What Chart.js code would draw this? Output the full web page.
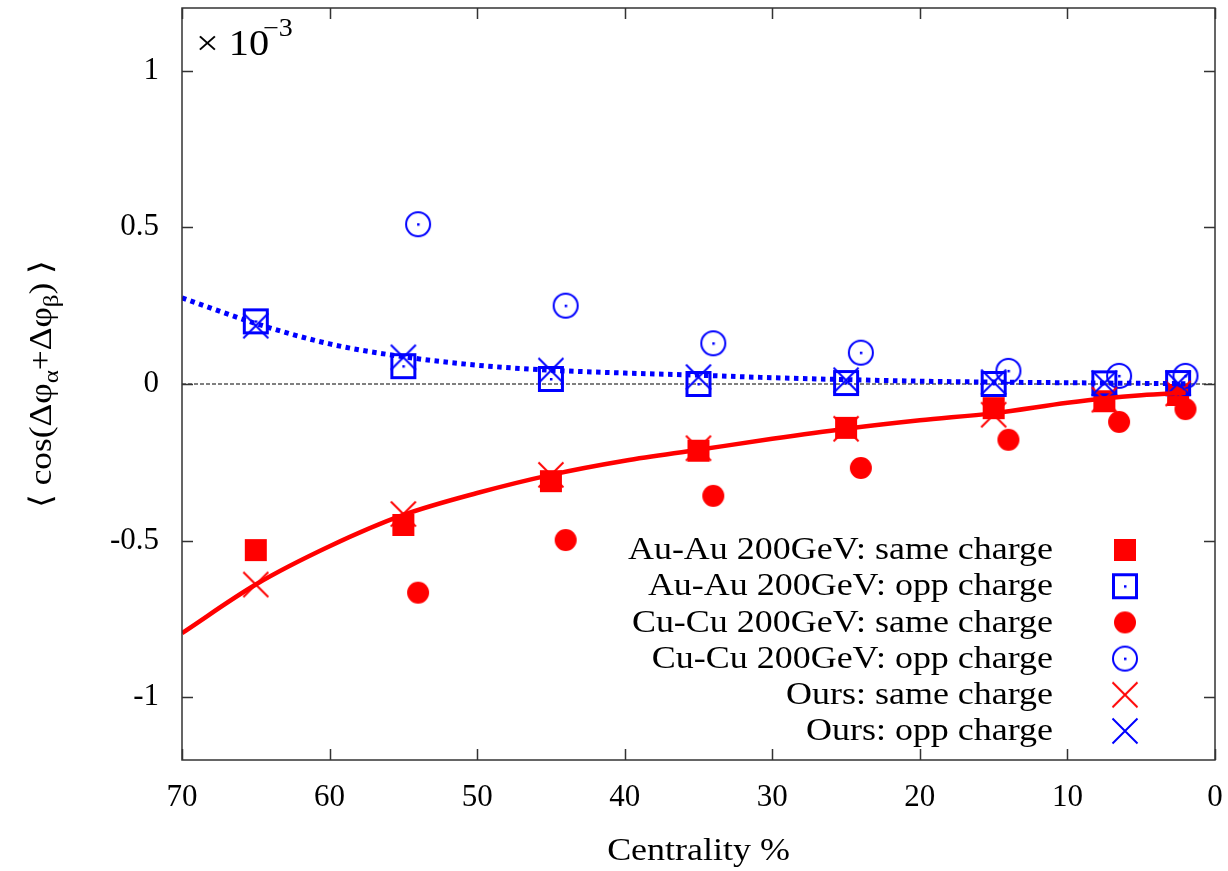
<!DOCTYPE html>
<html>
<head>
<meta charset="utf-8">
<script src="https://cdn.jsdelivr.net/npm/chart.js@4"></script>
<style>
  body { margin: 0; background: #fff; }
  #wrap { width: 1228px; height: 871px; }
</style>
</head>
<body>
<div id="wrap"><canvas id="corrChart" width="1228" height="871"></canvas></div>
<script>
// ---- data (units of 1e-3) ----
const auCent = [65, 55, 45, 35, 25, 15, 7.5, 2.5];
const auSame = [-0.53, -0.45, -0.31, -0.213, -0.14, -0.077, -0.055, -0.035];
const auOpp  = [0.20, 0.057, 0.016, 0.0, 0.003, 0.0, 0.002, 0.003];

const cuCent = [54, 44, 34, 24, 14, 6.5, 2];
const cuSame = [-0.666, -0.498, -0.357, -0.268, -0.178, -0.121, -0.08];
const cuOpp  = [0.51, 0.25, 0.13, 0.1, 0.042, 0.026, 0.026];

const oursCent = [65, 55, 45, 35, 25, 15, 7.5, 2.5];
const oursSame = [-0.64, -0.415, -0.29, -0.205, -0.143, -0.098, -0.05, -0.03];
const oursOpp  = [0.186, 0.085, 0.043, 0.022, 0.012, 0.006, 0.003, 0.002];

// fitted curves
const fitCent    = [70, 65, 60, 55, 50, 45, 40, 35, 30, 25, 20, 15, 10, 7.5, 5, 2];
const fitSame    = [-0.795, -0.64, -0.518, -0.418, -0.348, -0.29, -0.245, -0.21, -0.175, -0.143, -0.116, -0.093, -0.06, -0.046, -0.036, -0.028];
const fitOpp     = [0.275, 0.193, 0.128, 0.087, 0.06, 0.044, 0.035, 0.028, 0.02, 0.014, 0.009, 0.006, 0.004, 0.003, 0.002, 0.001];

const zeroLineX = [70, 0];
const zeroLineY = [0, 0];

const xTicks = [70, 60, 50, 40, 30, 20, 10, 0];
const yTicks = [-1, -0.5, 0, 0.5, 1];

const seriesNames = [
    'Au-Au 200GeV: same charge',
    'Au-Au 200GeV: opp charge',
    'Cu-Cu 200GeV: same charge',
    'Cu-Cu 200GeV: opp charge',
    'Ours: same charge',
    'Ours: opp charge'
];

const RED = '#ff0000';
const BLUE = '#0000ff';
const FONT = '"Liberation Serif", "Times New Roman", serif';

const pts = (xs, ys) => xs.map((v, i) => ({ x: v, y: ys[i] }));

// gnuplot-like point symbols as small canvases
function marker(kind, color) {
    const c = document.createElement('canvas');
    c.width = 32; c.height = 32;
    const g = c.getContext('2d');
    g.fillStyle = color;
    g.strokeStyle = color;
    if (kind === 'fsquare') {
        g.fillRect(5, 5, 22, 22);
    } else if (kind === 'osquare') {
        g.lineWidth = 3;
        g.strokeRect(4.5, 4.5, 23, 23);
        g.fillRect(15, 15, 2.5, 2.5);
    } else if (kind === 'fcircle') {
        g.beginPath(); g.arc(16, 16, 11, 0, Math.PI * 2); g.fill();
    } else if (kind === 'ocircle') {
        g.lineWidth = 2;
        g.beginPath(); g.arc(16, 16, 12, 0, Math.PI * 2); g.stroke();
        g.fillRect(15, 15, 2.5, 2.5);
    } else if (kind === 'cross') {
        g.lineWidth = 2;
        g.beginPath();
        g.moveTo(3.5, 3.5); g.lineTo(28.5, 28.5);
        g.moveTo(28.5, 3.5); g.lineTo(3.5, 28.5);
        g.stroke();
    }
    return c;
}

const symbols = [
    marker('fsquare', RED),
    marker('osquare', BLUE),
    marker('fcircle', RED),
    marker('ocircle', BLUE),
    marker('cross', RED),
    marker('cross', BLUE)
];

function stretchText(ctx, str, x, y, align, sx) {
    ctx.save();
    ctx.translate(x, y);
    ctx.scale(sx || 1.16, 1);
    ctx.textAlign = align;
    ctx.fillText(str, 0, 0);
    ctx.restore();
}

// frame, inward ticks, legend and labels drawn the gnuplot way
const decorPlugin = {
    id: 'decor',
    afterDraw(chart) {
        const { ctx, chartArea: a, scales: { x, y } } = chart;
        ctx.save();

        ctx.strokeStyle = '#333';
        ctx.lineWidth = 1.5;
        ctx.strokeRect(a.left, a.top, a.right - a.left, a.bottom - a.top);
        ctx.beginPath();
        xTicks.forEach(v => {
            const px = Math.round(x.getPixelForValue(v)) + 0.5;
            ctx.moveTo(px, a.bottom); ctx.lineTo(px, a.bottom - 11);
            ctx.moveTo(px, a.top); ctx.lineTo(px, a.top + 11);
        });
        yTicks.forEach(v => {
            const py = Math.round(y.getPixelForValue(v)) + 0.5;
            ctx.moveTo(a.left, py); ctx.lineTo(a.left + 11, py);
            ctx.moveTo(a.right, py); ctx.lineTo(a.right - 11, py);
        });
        ctx.stroke();

        // legend
        ctx.fillStyle = '#000';
        ctx.textBaseline = 'middle';
        ctx.font = '31px ' + FONT;
        seriesNames.forEach((name, i) => {
            const ly = 550 + i * 36.2;
            stretchText(ctx, name, 1053, ly + 1, 'right');
            const s = symbols[i];
            ctx.drawImage(s, 1125 - s.width / 2, ly - s.height / 2);
        });

        // x axis title
        ctx.textBaseline = 'middle';
        stretchText(ctx, 'Centrality %', (a.left + a.right) / 2, 852, 'center');

        // x 10^-3 multiplier
        ctx.textBaseline = 'alphabetic';
        ctx.font = '36px ' + FONT;
        stretchText(ctx, '\u00d7 10', 196, 55, 'left', 1.12);
        ctx.font = '25px ' + FONT;
        stretchText(ctx, '\u22123', 263, 36, 'left', 1.12);

        // y axis title with subscripts
        ctx.translate(51, 384);
        ctx.rotate(-Math.PI / 2);
        const parts = [
            ['\u27e8 cos(\u0394\u03c6', 31, 0],
            ['\u03b1', 22, 7],
            ['+\u0394\u03c6', 31, 0],
            ['\u03b2', 22, 7],
            [') \u27e9', 31, 0]
        ];
        let total = 0;
        parts.forEach(p => { ctx.font = p[1] + 'px ' + FONT; total += ctx.measureText(p[0]).width * 1.14; });
        let cx = -total / 2;
        ctx.textAlign = 'left';
        parts.forEach(p => {
            ctx.font = p[1] + 'px ' + FONT;
            ctx.save();
            ctx.translate(cx, p[2]);
            ctx.scale(1.14, 1);
            ctx.fillText(p[0], 0, 0);
            ctx.restore();
            cx += ctx.measureText(p[0]).width * 1.14;
        });

        ctx.restore();
    }
};

const ctx = document.getElementById('corrChart').getContext('2d');

new Chart(ctx, {
    type: 'scatter',
    data: {
        datasets: [
            { data: pts(zeroLineX, zeroLineY), showLine: true, pointRadius: 0, borderColor: '#000', borderWidth: 1, borderDash: [4, 2], order: 9 },
            { data: pts(auCent, auSame), pointStyle: symbols[0], order: 8 },
            { data: pts(auCent, auOpp), pointStyle: symbols[1], order: 7 },
            { data: pts(cuCent, cuSame), pointStyle: symbols[2], order: 6 },
            { data: pts(cuCent, cuOpp), pointStyle: symbols[3], order: 5 },
            { data: pts(oursCent, oursSame), pointStyle: symbols[4], order: 4 },
            { data: pts(oursCent, oursOpp), pointStyle: symbols[5], order: 3 },
            { data: pts(fitCent, fitSame), showLine: true, pointRadius: 0, borderColor: RED, borderWidth: 4.5, cubicInterpolationMode: 'monotone', order: 2 },
            { data: pts(fitCent, fitOpp), showLine: true, pointRadius: 0, borderColor: BLUE, borderWidth: 5, borderDash: [4.5, 4.5], cubicInterpolationMode: 'monotone', order: 1 }
        ]
    },
    options: {
        responsive: false,
        animation: false,
        layout: { padding: { top: 8, right: 13, left: 0, bottom: 0 } },
        plugins: {
            legend: { display: false },
            tooltip: { enabled: false }
        },
        scales: {
            x: {
                type: 'linear',
                reverse: true,
                min: 0,
                max: 70,
                afterBuildTicks: s => { s.ticks = xTicks.map(v => ({ value: v })); },
                afterFit: s => { s.height = 111; s.paddingLeft = 0; s.paddingRight = 0; },
                grid: { display: false, drawTicks: false },
                border: { display: false },
                ticks: {
                    padding: 19,
                    color: '#000',
                    font: { family: FONT, size: 31 },
                    callback: v => String(v)
                }
            },
            y: {
                type: 'linear',
                min: -1.2,
                max: 1.2,
                afterBuildTicks: s => { s.ticks = yTicks.map(v => ({ value: v })); },
                afterFit: s => { s.width = 182; s.paddingTop = 0; s.paddingBottom = 0; },
                grid: { display: false, drawTicks: false },
                border: { display: false },
                ticks: {
                    padding: 23,
                    color: '#000',
                    font: { family: FONT, size: 31 },
                    callback: v => String(v)
                }
            }
        }
    },
    plugins: [decorPlugin]
});
</script>
</body>
</html>
